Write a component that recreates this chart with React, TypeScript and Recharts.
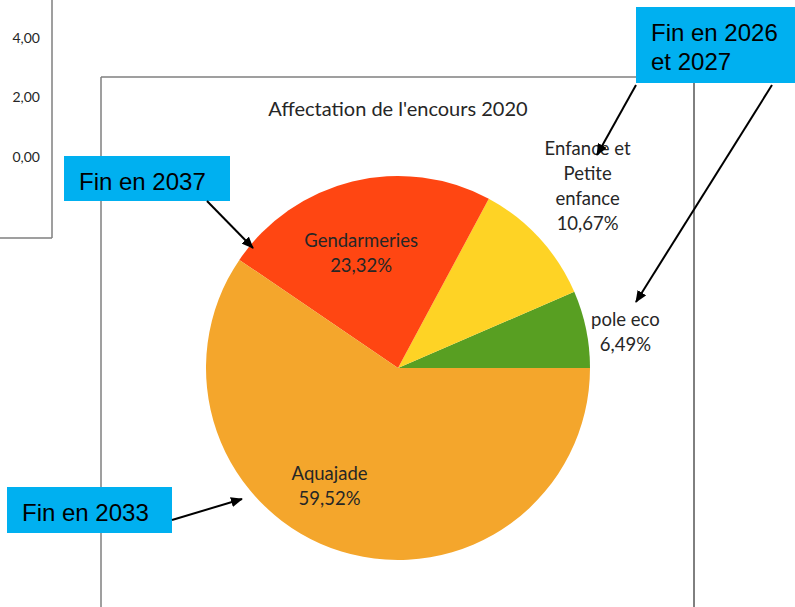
import { PieChart, Pie, Cell } from "recharts";

// Parts de l'encours 2020 (sens anti-horaire depuis 3h)
const categories = ["pole eco", "Enfance et Petite enfance", "Gendarmeries", "Aquajade"];
const shares = [6.49, 10.67, 23.32, 59.52];
const labelLines = [["pole eco"], ["Enfance et", "Petite", "enfance"], ["Gendarmeries"], ["Aquajade"]];
const sliceColors = ["#589F22", "#FED325", "#FF4612", "#F4A62C"];

// Étiquettes du graphique voisin (coupé à gauche)
const sideTicks = ["4,00", "2,00", "0,00"];

const data = categories.map((name, i) => ({ name, value: shares[i] }));

const RADIAN = Math.PI / 180;
// placement façon Excel "ajustement optimal"
const labelRadius = [1.2, 1.37, 0.63, 0.71];
const labelAngleShift = [-2.5, 1.3, 4, -13];

const fmtPct = (v: number) => `${v.toFixed(2).replace(".", ",")}%`;

// eslint-disable-next-line @typescript-eslint/no-explicit-any
const SliceLabel = (props: any) => {
  const { cx, cy, midAngle, outerRadius, index, value } = props;
  const a = (midAngle + labelAngleShift[index]) * RADIAN;
  const r = outerRadius * labelRadius[index];
  const x = cx + r * Math.cos(a);
  const y = cy - r * Math.sin(a);
  const lines = [...labelLines[index], fmtPct(value)];
  const lh = 25;
  const y0 = y - ((lines.length - 1) * lh) / 2;
  return (
    <text
      x={x}
      y={y0}
      textAnchor="middle"
      dominantBaseline="central"
      fill="#262626"
      style={{ fontFamily: "Lato, 'Noto Sans', sans-serif", fontSize: 18.5 }}
    >
      {lines.map((l, i) => (
        <tspan key={i} x={x} dy={i === 0 ? 0 : lh}>
          {l}
        </tspan>
      ))}
    </text>
  );
};

const Callout = ({ x, y, w, h, lines }: { x: number; y: number; w: number; h: number; lines: string[] }) => (
  <g>
    <rect x={x} y={y} width={w} height={h} fill="#00B0F0" />
    {lines.map((l, i) => (
      <text
        key={i}
        x={x + 15}
        y={y + 25 + i * 29}
        dominantBaseline="central"
        fill="#000"
        style={{ fontFamily: "'Liberation Sans', Arial, sans-serif", fontSize: 24 }}
      >
        {l}
      </text>
    ))}
  </g>
);

export default function App() {
  return (
    <div style={{ position: "absolute", left: 0, top: 0, width: 795, height: 607, background: "#fff", overflow: "hidden" }}>
      <PieChart width={795} height={607} margin={{ top: 0, right: 0, bottom: 0, left: 0 }}>
        <Pie
          data={data}
          dataKey="value"
          nameKey="name"
          cx={398}
          cy={368}
          outerRadius={192}
          startAngle={0}
          endAngle={360}
          stroke="none"
          label={SliceLabel}
          labelLine={false}
          isAnimationActive={false}
        >
          {data.map((_, i) => (
            <Cell key={i} fill={sliceColors[i]} />
          ))}
        </Pie>
      </PieChart>

      <svg width={795} height={607} style={{ position: "absolute", left: 0, top: 0, pointerEvents: "none" }}>
        <defs>
          <marker id="arr" markerWidth="12" markerHeight="10" refX="11" refY="5" orient="auto" markerUnits="userSpaceOnUse">
            <path d="M0,0 L12,5 L0,10 Z" fill="#000" />
          </marker>
        </defs>

        {/* graphique voisin */}
        <line x1={52} y1={0} x2={52} y2={238} stroke="#7f7f7f" strokeWidth={1.5} />
        <line x1={0} y1={238} x2={52} y2={238} stroke="#7f7f7f" strokeWidth={1.5} />
        {sideTicks.map((t, i) => (
          <text
            key={t}
            x={40}
            y={37 + i * 59.5}
            textAnchor="end"
            dominantBaseline="central"
            fill="#262626"
            style={{ fontFamily: "Lato, 'Noto Sans', sans-serif", fontSize: 14 }}
          >
            {t}
          </text>
        ))}

        {/* cadre du graphique */}
        <line x1={101} y1={77} x2={101} y2={607} stroke="#7f7f7f" strokeWidth={1.5} />
        <line x1={101} y1={77} x2={700} y2={77} stroke="#7f7f7f" strokeWidth={1.5} />
        <line x1={694} y1={83} x2={694} y2={607} stroke="#000" strokeWidth={1} />

        <text
          x={398}
          y={108}
          textAnchor="middle"
          dominantBaseline="central"
          fill="#262626"
          style={{ fontFamily: "Lato, 'Noto Sans', sans-serif", fontSize: 20 }}
        >
          Affectation de l'encours 2020
        </text>

        {/* annotations */}
        <Callout x={64} y={156} w={166} h={45} lines={["Fin en 2037"]} />
        <Callout x={636} y={7} w={159} h={76} lines={["Fin en 2026", "et 2027"]} />
        <Callout x={7} y={487} w={165} h={46} lines={["Fin en 2033"]} />

        <line x1={207} y1={201} x2={253} y2={248} stroke="#000" strokeWidth={2} markerEnd="url(#arr)" />
        <line x1={636} y1={85} x2={597} y2={155} stroke="#000" strokeWidth={2} markerEnd="url(#arr)" />
        <line x1={772} y1={85} x2={636} y2={302} stroke="#000" strokeWidth={2} markerEnd="url(#arr)" />
        <line x1={172} y1={520} x2={242} y2={499} stroke="#000" strokeWidth={2} markerEnd="url(#arr)" />
      </svg>
    </div>
  );
}
